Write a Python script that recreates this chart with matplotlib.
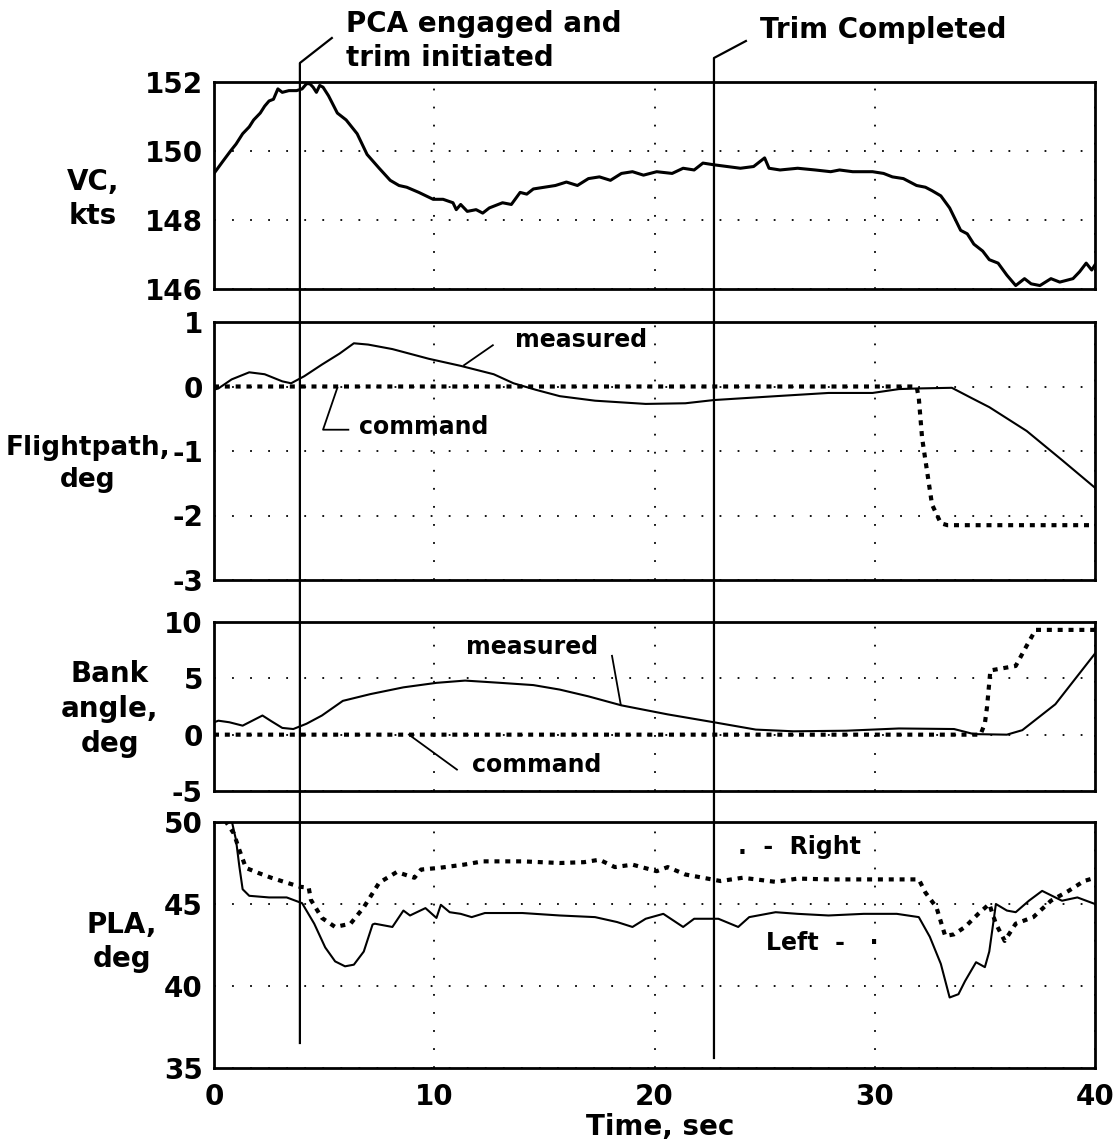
import matplotlib
matplotlib.use("Agg")
import matplotlib.pyplot as plt
import matplotlib.transforms as mtransforms
from matplotlib.lines import Line2D

# ---- data ----
t_vc = [0.0, 0.4, 0.75, 1.0, 1.3, 1.6, 1.8, 2.1, 2.3, 2.5,
        2.7, 2.9, 3.1, 3.4, 3.75, 4.0, 4.2, 4.35, 4.5, 4.65,
        4.8, 4.95, 5.2, 5.6, 6.0, 6.5, 6.95, 7.5, 8.0, 8.4,
        8.75, 9.3, 9.95, 10.4, 10.85, 11.0, 11.2, 11.5, 11.9, 12.2,
        12.5, 13.1, 13.5, 13.9, 14.2, 14.5, 15.0, 15.5, 16.0, 16.5,
        17.0, 17.5, 18.0, 18.5, 19.0, 19.5, 20.1, 20.8, 21.3, 21.8,
        22.2, 22.7, 23.3, 23.9, 24.5, 25.0, 25.2, 25.7, 26.5, 27.3,
        28.0, 28.4, 29.0, 29.9, 30.4, 30.8, 31.3, 31.9, 32.3, 32.6,
        33.0, 33.4, 33.9, 34.2, 34.5, 34.9, 35.2, 35.6, 36.0, 36.4,
        36.8, 37.1, 37.5, 38.0, 38.4, 38.7, 39.0, 39.3, 39.6, 39.85,
        40.0]
vc = [149.35, 149.7, 150.0, 150.2, 150.5, 150.7, 150.9, 151.1, 151.3, 151.45,
      151.5, 151.8, 151.7, 151.75, 151.75, 151.8, 151.95, 151.95, 151.85, 151.7,
      151.9, 151.85, 151.6, 151.1, 150.9, 150.5, 149.9, 149.5, 149.15, 149.0,
      148.95, 148.8, 148.6, 148.6, 148.5, 148.3, 148.45, 148.25, 148.3, 148.2,
      148.35, 148.5, 148.45, 148.8, 148.75, 148.9, 148.95, 149.0, 149.1, 149.0,
      149.2, 149.25, 149.15, 149.35, 149.4, 149.3, 149.4, 149.35, 149.5, 149.45,
      149.65, 149.6, 149.55, 149.5, 149.55, 149.8, 149.5, 149.45, 149.5, 149.45,
      149.4, 149.45, 149.4, 149.4, 149.35, 149.25, 149.2, 149.0, 148.95, 148.85,
      148.7, 148.35, 147.7, 147.6, 147.3, 147.1, 146.85, 146.75, 146.4, 146.1,
      146.3, 146.15, 146.1, 146.3, 146.2, 146.25, 146.3, 146.5, 146.75, 146.55,
      146.7]

t_fp = [0.0, 0.2, 0.8, 1.6, 2.3, 3.1, 3.5, 4.1, 4.9, 5.7,
        6.35, 7.0, 8.1, 9.75, 11.2, 12.7, 13.6, 14.6, 15.7, 17.3,
        19.6, 21.4, 22.7, 25.5, 27.9, 29.9, 31.1, 32.0, 33.5, 34.4,
        35.2, 36.9, 38.5, 40.0]
fp_measured = [-0.05, -0.03, 0.11, 0.22, 0.19, 0.08, 0.05, 0.16, 0.34, 0.51,
               0.67, 0.65, 0.58, 0.43, 0.32, 0.19, 0.05, -0.05, -0.15, -0.22,
               -0.27, -0.26, -0.21, -0.15, -0.1, -0.1, -0.04, -0.03, -0.02, -0.18,
               -0.32, -0.69, -1.14, -1.57]
t_fc = [0.0, 31.9, 32.0, 32.15, 32.4, 32.6, 33.0, 33.3, 40.0]
fp_command = [0.0, 0.0, -0.18, -0.8, -1.37, -1.83, -2.12, -2.15, -2.15]

t_bm = [0.0, 0.2, 0.7, 1.3, 1.8, 2.2, 2.6, 3.1, 3.6, 4.2,
        4.9, 5.85, 7.1, 8.6, 10.1, 11.4, 13.0, 14.5, 15.7, 17.0,
        18.5, 20.6, 22.7, 24.6, 26.3, 28.7, 31.1, 33.6, 34.5, 36.0,
        36.7, 38.2, 40.0]
bank_measured = [1.1, 1.24, 1.1, 0.8, 1.3, 1.7, 1.2, 0.6, 0.5, 0.97,
                 1.7, 3.0, 3.6, 4.2, 4.6, 4.8, 4.6, 4.4, 4.0, 3.4,
                 2.6, 1.8, 1.1, 0.45, 0.3, 0.35, 0.55, 0.5, 0.05, 0.0,
                 0.4, 2.7, 7.2]
t_bc = [0.0, 34.8, 35.0, 35.1, 35.25, 36.4, 36.9, 37.3, 40.0]
bank_command = [0.0, 0.0, 1.0, 2.5, 5.7, 6.1, 7.9, 9.3, 9.3]

t_pl = [0.0, 0.2, 0.8, 1.0, 1.15, 1.3, 1.6, 2.5, 3.3, 4.0,
        4.55, 5.05, 5.5, 5.95, 6.35, 6.8, 7.2, 7.3, 8.1, 8.6,
        8.9, 9.6, 10.1, 10.3, 10.7, 11.2, 11.7, 12.3, 14.0, 15.7,
        17.3, 18.3, 19.0, 19.6, 20.4, 21.3, 21.8, 22.9, 23.8, 24.3,
        25.5, 26.5, 27.9, 29.5, 31.0, 32.0, 32.5, 33.0, 33.4, 33.8,
        34.1, 34.6, 35.0, 35.2, 35.5, 36.0, 36.4, 37.0, 37.6, 38.5,
        39.2, 40.0]
pla_left = [50.0, 49.95, 50.1, 48.9, 47.3, 45.9, 45.5, 45.4, 45.4, 45.05,
            43.8, 42.35, 41.5, 41.2, 41.3, 42.1, 43.75, 43.8, 43.6, 44.6,
            44.3, 44.75, 44.15, 44.95, 44.5, 44.4, 44.2, 44.45, 44.45, 44.3,
            44.2, 43.9, 43.6, 44.1, 44.4, 43.6, 44.1, 44.1, 43.6, 44.2,
            44.5, 44.4, 44.3, 44.4, 44.4, 44.2, 43.0, 41.35, 39.3, 39.5,
            40.3, 41.45, 41.15, 42.1, 45.0, 44.6, 44.5, 45.2, 45.8, 45.2,
            45.4, 45.0]
t_pr = [0.5, 0.9, 1.15, 1.45, 2.0, 2.6, 3.3, 3.9, 4.3,
        4.4, 4.9, 5.5, 6.2, 6.8, 7.5, 8.3, 9.1, 9.4, 10.2,
        11.35, 12.2, 14.0, 15.7, 16.8, 17.5, 18.2, 19.0, 20.1, 20.6,
        21.4, 23.0, 24.0, 25.5, 26.5, 27.9, 29.0, 30.0, 32.0, 32.3,
        32.8, 33.2, 33.6, 34.1, 34.7, 35.2, 35.5, 35.9, 36.4, 37.2,
        38.0, 38.8, 39.5, 40.0]
pla_right = [50.1, 49.3, 48.3, 47.2, 46.9, 46.6, 46.3, 46.05, 46.0,
             45.25, 44.15, 43.6, 43.8, 44.8, 46.3, 46.95, 46.6, 47.1, 47.2,
             47.4, 47.6, 47.6, 47.5, 47.55, 47.7, 47.25, 47.4, 47.0, 47.25,
             46.8, 46.4, 46.6, 46.35, 46.55, 46.5, 46.5, 46.5, 46.5, 45.7,
             44.8, 43.05, 43.15, 43.6, 44.4, 45.0, 43.8, 42.75, 43.8, 44.2,
             45.2, 45.8, 46.4, 46.6]

x_ticks = [0, 10, 20, 30, 40]
y_ticks = [[146, 148, 150, 152], [-3, -2, -1, 0, 1], [-5, 0, 5, 10], [35, 40, 45, 50]]
y_labels = ["VC,\nkts", "Flightpath,\ndeg", "Bank\nangle,\ndeg", "PLA,\ndeg"]
event_times = [3.9, 22.7]
event_labels = ["PCA engaged and\ntrim initiated", "Trim Completed"]

W, H = 1119, 1147
GRID_STYLE = (0, (1, 9))
DOT_STYLE = (0, (1.2, 1.4))


def box(left, top, right, bottom):
    return [left / W, 1 - bottom / H, (right - left) / W, (bottom - top) / H]


def main():
    plt.rcParams["font.family"] = ["DejaVu Sans"]
    plt.rcParams["font.weight"] = "bold"
    plt.rcParams["axes.unicode_minus"] = False

    fig = plt.figure(figsize=(W / 100, H / 100), dpi=100)
    boxes = [box(214, 82, 1095, 289), box(214, 322, 1095, 580),
             box(214, 622, 1095, 791), box(214, 822, 1095, 1068)]
    axes = [fig.add_axes(b) for b in boxes]

    for i, ax in enumerate(axes):
        ax.set_xlim(0, 40)
        ax.set_ylim(y_ticks[i][0], y_ticks[i][-1])
        ax.set_xticks(x_ticks)
        ax.set_yticks(y_ticks[i])
        ax.set_yticklabels([str(v) for v in y_ticks[i]])
        ax.grid(True, color="black", linestyle=GRID_STYLE, linewidth=1.3)
        ax.tick_params(length=0, labelsize=20, pad=8)
        ax.tick_params(axis="x", pad=11)
        for s in ax.spines.values():
            s.set_linewidth(2)
        if i < 3:
            ax.tick_params(labelbottom=False)

    label_pos = [(93, 199), (88, 464), (110, 709), (122, 942)]
    label_size = [20, 19, 20, 20]
    for text, (px, py), fs in zip(y_labels, label_pos, label_size):
        fig.text(px / W, 1 - py / H, text, ha="center", va="center",
                 fontsize=fs, fontweight="bold", linespacing=1.3)

    ax1, ax2, ax3, ax4 = axes
    ax1.plot(t_vc, vc, color="black", lw=2.2)

    ax2.plot(t_fp, fp_measured, color="black", lw=1.5)
    ax2.plot(t_fc, fp_command, color="black", lw=3, linestyle=DOT_STYLE)
    ax2.text(13.66, 0.72, "measured", fontsize=17, va="center")
    ax2.plot([12.66, 11.35], [0.64, 0.33], color="black", lw=1.3)
    ax2.text(6.6, -0.63, "command", fontsize=17, va="center")
    ax2.plot([5.6, 4.95, 6.1], [-0.02, -0.67, -0.67], color="black", lw=1.3)

    ax3.plot(t_bm, bank_measured, color="black", lw=1.5)
    ax3.plot(t_bc, bank_command, color="black", lw=3, linestyle=DOT_STYLE)
    ax3.text(11.45, 7.8, "measured", fontsize=17, va="center")
    ax3.plot([18.07, 18.47], [7.0, 2.64], color="black", lw=1.3)
    ax3.text(11.7, -2.7, "command", fontsize=17, va="center")
    ax3.plot([8.85, 11.03], [0.0, -3.1], color="black", lw=1.3)

    ax4.plot(t_pl, pla_left, color="black", lw=1.5)
    ax4.plot(t_pr, pla_right, color="black", lw=3, linestyle=DOT_STYLE)
    ax4.text(23.8, 48.5, ".  -  Right", fontsize=17, va="center")
    ax4.text(25.05, 42.6, "Left  -   \u00b7", fontsize=17, va="center")

    ax4.set_xlabel("Time, sec", fontsize=20, fontweight="bold")
    ax4.xaxis.set_label_coords(0.506, -0.24)
    ax4.xaxis.label.set_va("center")

    # event markers spanning all panels
    trans = mtransforms.blended_transform_factory(ax1.transData, fig.transFigure)
    bottoms = [1 - 1043 / H, 1 - 1058 / H]
    tops = [1 - 63 / H, 1 - 58 / H]
    ends = [1 - 38 / H, 1 - 41 / H]
    text_y = [1 - 41 / H, 1 - 30 / H]
    for t, lab, yb, yt, ye, ty in zip(event_times, event_labels, bottoms, tops, ends, text_y):
        fig.add_artist(Line2D([t, t, t + 1.45], [yb, yt, ye], transform=trans,
                              color="black", lw=1.6))
        fig.text(t + 2.1, ty, lab, transform=trans, fontsize=20, fontweight="bold",
                 ha="left", va="center", linespacing=1.3)

    fig.savefig("out.png", dpi=100)
    plt.close(fig)


if __name__ == "__main__":
    main()
